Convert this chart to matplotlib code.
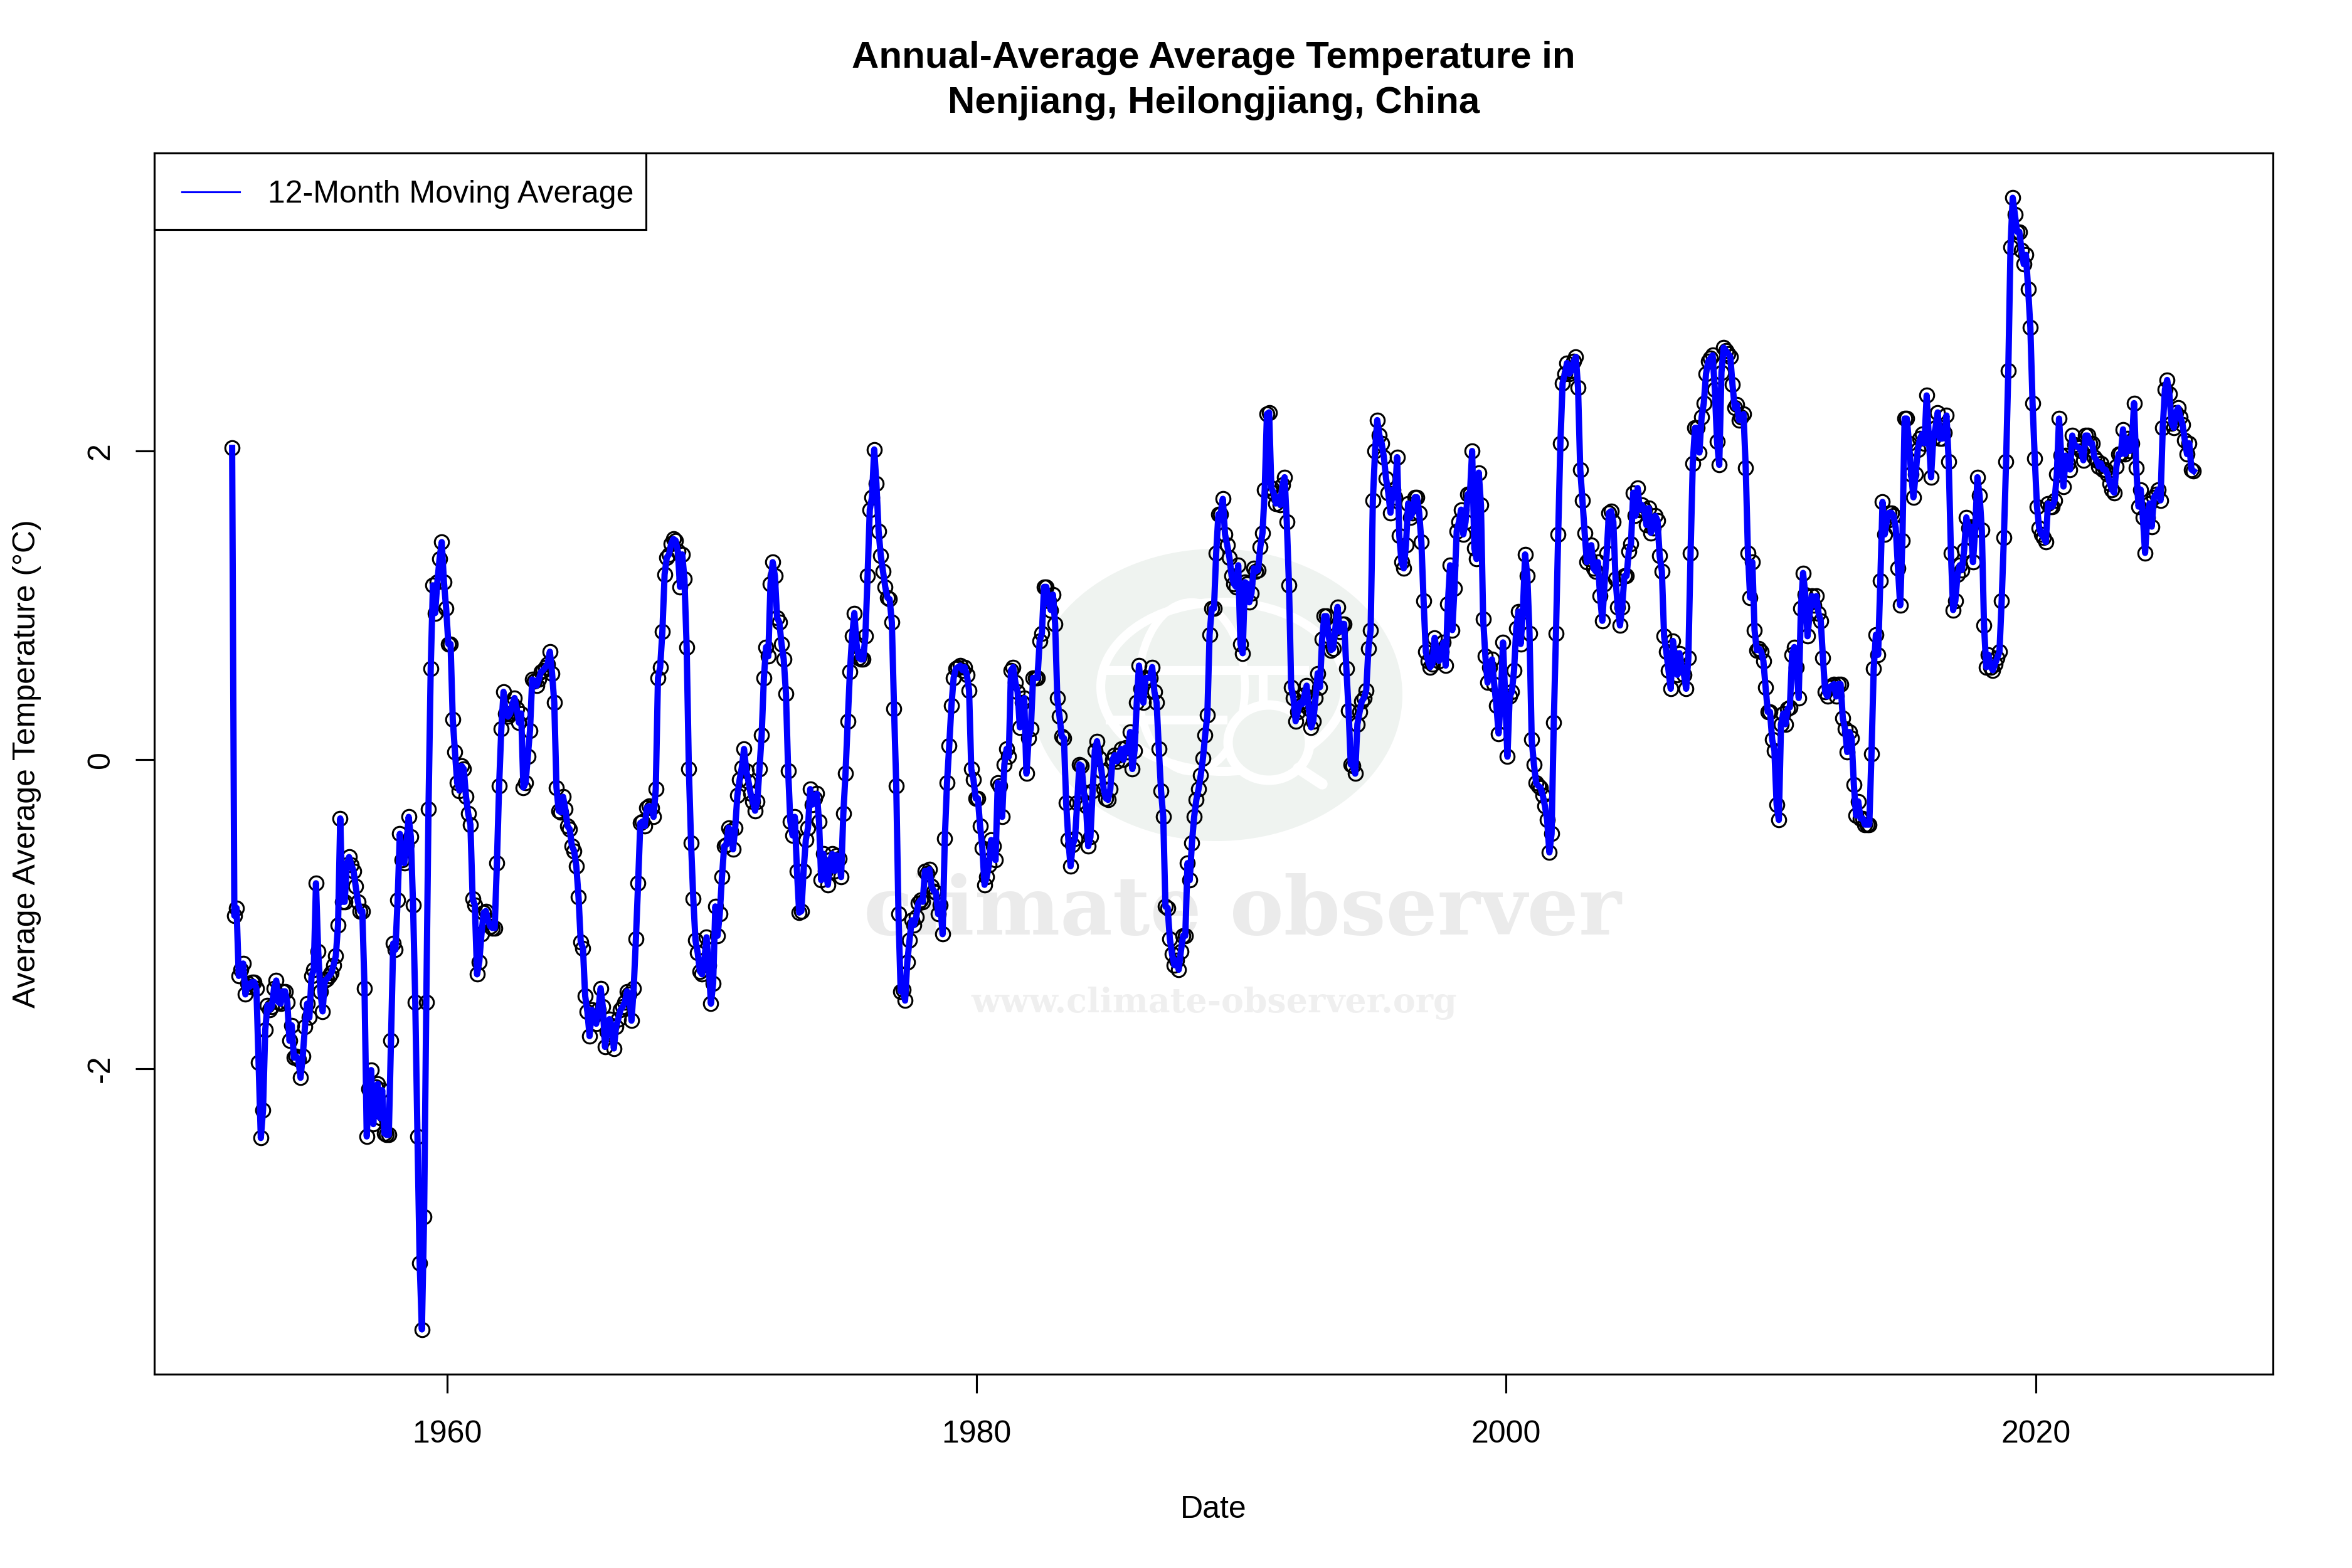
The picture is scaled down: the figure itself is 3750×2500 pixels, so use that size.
import matplotlib
matplotlib.use("Agg")
import matplotlib.pyplot as plt
import numpy as np
from matplotlib.lines import Line2D
from matplotlib.patches import Ellipse, Rectangle

plt.rcParams['font.family'] = ['Liberation Sans', 'DejaVu Sans']
plt.rcParams['axes.unicode_minus'] = False

# monthly 12-month moving average, first value about Nov 1951
temps_a = [
    2.02,-1.01,-0.96,-1.40,-1.36,-1.32,-1.52,-1.45,-1.47,-1.44,-1.44,-1.48,
    -1.96,-2.45,-2.27,-1.75,-1.59,-1.62,-1.60,-1.48,-1.43,-1.57,-1.58,-1.50,
    -1.50,-1.57,-1.82,-1.72,-1.93,-1.92,-1.94,-2.06,-1.92,-1.73,-1.58,-1.67,
    -1.40,-1.36,-0.80,-1.24,-1.50,-1.63,-1.43,-1.42,-1.40,-1.38,-1.33,-1.27,
    -1.07,-0.38,-0.92,-0.92,-0.68,-0.63,-0.68,-0.72,-0.82,-0.92,-0.98,-0.98,
    -1.48,-2.44,-2.13,-2.01,-2.36,-2.12,-2.10,-2.32,-2.14,-2.42,-2.43,-2.43,
    -1.82,-1.19,-1.23,-0.91,-0.48,-0.65,-0.67,-0.55,-0.37,-0.50,-0.94,-1.57,
    -2.44,-3.26,-3.69,-2.96,-1.57,-0.32,0.59,1.13,0.95,1.15,1.30,1.41,
    1.15,0.98,0.75,0.75,0.26,0.05,-0.15,-0.20,-0.04,-0.06,-0.24,-0.35,
    -0.42,-0.90,-0.94,-1.39,-1.31,-1.13,-0.99,-0.98,-1.04,-1.08,-1.09,-1.09,
    -0.67,-0.17,0.20,0.44,0.30,0.28,0.30,0.36,0.40,0.33,0.24,0.30,
    -0.18,-0.15,0.02,0.19,0.52,0.51,0.48,0.52,0.57,0.58,0.60,0.62,
]
temps_b = [
    0.70,0.56,0.37,-0.18,-0.33,-0.34,-0.24,-0.32,-0.43,-0.45,-0.56,-0.59,
    -0.69,-0.89,-1.18,-1.22,-1.53,-1.63,-1.79,-1.62,-1.66,-1.71,-1.62,-1.48,
    -1.60,-1.86,-1.76,-1.68,-1.72,-1.87,-1.73,-1.68,-1.62,-1.60,-1.57,-1.50,
    -1.52,-1.69,-1.48,-1.16,-0.80,-0.41,-0.40,-0.43,-0.31,-0.30,-0.31,-0.37,
    -0.19,0.53,0.60,0.83,1.20,1.31,1.33,1.40,1.43,1.42,1.35,1.12,
    1.33,1.17,0.73,-0.06,-0.54,-0.90,-1.17,-1.25,-1.37,-1.39,-1.30,-1.15,
    -1.33,-1.58,-1.45,-0.95,-1.14,-1.00,-0.76,-0.56,-0.55,-0.44,-0.46,-0.58,
    -0.44,-0.23,-0.13,-0.05,0.07,-0.07,-0.14,-0.22,-0.27,-0.33,-0.27,-0.06,
    0.16,0.53,0.73,0.67,1.14,1.28,1.19,0.92,0.89,0.75,0.65,0.43,
    -0.07,-0.40,-0.49,-0.37,-0.72,-0.99,-0.98,-0.72,-0.52,-0.44,-0.19,-0.29,
    -0.25,-0.22,-0.40,-0.78,-0.61,-0.72,-0.81,-0.65,-0.61,-0.72,-0.62,-0.64,
    -0.76,-0.35,-0.09,0.25,0.57,0.80,0.95,0.75,0.66,0.65,0.65,0.80,
]
temps_c = [
    1.19,1.62,1.70,2.01,1.79,1.48,1.32,1.22,1.12,1.05,1.04,0.89,
    0.33,-0.17,-1.00,-1.50,-1.49,-1.56,-1.31,-1.17,-1.04,-1.07,-1.02,-0.93,
    -0.91,-0.92,-0.72,-0.74,-0.71,-0.82,-0.85,-0.86,-1.00,-0.94,-1.13,-0.51,
    -0.15,0.09,0.35,0.53,0.59,0.60,0.61,0.58,0.60,0.55,0.45,-0.06,
    -0.13,-0.25,-0.25,-0.43,-0.57,-0.81,-0.76,-0.68,-0.52,-0.56,-0.65,-0.15,
    -0.17,-0.37,-0.03,0.07,0.02,0.58,0.60,0.50,0.44,0.21,0.37,0.40,
    -0.09,0.14,0.20,0.53,0.53,0.53,0.77,0.82,1.12,1.12,1.03,0.97,
    1.07,0.88,0.40,0.28,0.15,0.14,-0.28,-0.52,-0.69,-0.55,-0.51,-0.28,
    -0.03,-0.04,-0.21,-0.30,-0.56,-0.50,-0.20,0.06,0.12,0.01,-0.07,-0.19,
    -0.25,-0.26,-0.19,0.00,0.03,-0.01,0.03,0.07,0.00,0.08,0.05,0.18,
    -0.06,0.06,0.37,0.61,0.46,0.37,0.53,0.53,0.53,0.60,0.44,0.37,
    0.07,-0.20,-0.37,-0.95,-0.96,-1.16,-1.26,-1.33,-1.30,-1.36,-1.24,-1.14,
]
temps_d = [
    -1.14,-0.67,-0.78,-0.54,-0.37,-0.26,-0.19,-0.10,0.01,0.16,0.29,0.81,
    0.98,0.98,1.34,1.59,1.59,1.69,1.46,1.39,1.31,1.19,1.14,1.12,
    1.26,0.75,0.69,1.15,1.14,1.02,1.08,1.24,1.22,1.23,1.38,1.47,
    1.75,2.24,2.25,1.76,1.73,1.66,1.70,1.65,1.78,1.83,1.54,1.13,
    0.47,0.40,0.25,0.31,0.37,0.36,0.42,0.48,0.33,0.21,0.25,0.40,
    0.56,0.47,0.78,0.93,0.93,0.80,0.71,0.72,0.85,0.99,0.83,0.88,
    0.88,0.59,0.32,-0.03,-0.04,-0.09,0.23,0.31,0.38,0.40,0.45,0.72,
    0.84,1.68,2.00,2.20,2.10,2.05,1.96,1.82,1.73,1.60,1.75,1.70,
    1.96,1.45,1.28,1.24,1.39,1.66,1.57,1.60,1.70,1.70,1.60,1.41,
    1.03,0.70,0.64,0.60,0.62,0.79,0.70,0.64,0.70,0.76,0.61,1.01,
    1.26,0.84,1.11,1.48,1.54,1.62,1.46,1.54,1.72,1.72,2.00,1.37,
    1.30,1.86,1.65,0.91,0.67,0.50,0.60,0.65,0.49,0.35,0.17,0.41,
]
temps_e = [
    0.76,0.40,0.02,0.41,0.44,0.58,0.85,0.96,0.75,0.96,1.33,1.19,
    0.82,0.13,-0.03,-0.15,-0.17,-0.18,-0.23,-0.30,-0.39,-0.60,-0.48,0.24,
    0.82,1.46,2.05,2.44,2.50,2.57,2.50,2.52,2.58,2.61,2.41,1.88,
    1.68,1.47,1.28,1.30,1.39,1.24,1.22,1.28,1.06,0.90,1.14,1.34,
    1.60,1.61,1.54,1.17,0.99,0.87,0.99,1.19,1.19,1.35,1.40,1.73,
    1.58,1.76,1.62,1.65,1.62,1.52,1.63,1.47,1.50,1.58,1.55,1.32,
    1.22,0.80,0.70,0.58,0.46,0.77,0.66,0.55,0.69,0.60,0.55,0.46,
    0.66,1.34,1.92,2.15,2.15,1.99,2.22,2.31,2.50,2.58,2.60,2.62,
    2.40,2.06,1.91,2.51,2.67,2.65,2.63,2.61,2.43,2.28,2.30,2.20,
    2.22,2.24,1.89,1.34,1.05,1.28,0.84,0.71,0.72,0.70,0.64,0.47,
    0.31,0.31,0.13,0.06,-0.29,-0.39,0.23,0.30,0.23,0.33,0.34,0.68,
    0.73,0.60,0.40,0.98,1.21,1.07,0.80,0.95,1.06,1.00,1.06,0.95,
]
temps_f = [
    0.90,0.66,0.44,0.41,0.47,0.48,0.49,0.41,0.49,0.49,0.27,0.20,
    0.05,0.18,0.14,-0.16,-0.36,-0.27,-0.38,-0.38,-0.42,-0.42,-0.42,0.04,
    0.59,0.81,0.68,1.16,1.67,1.46,1.55,1.60,1.60,1.58,1.50,1.24,
    1.00,1.42,2.21,2.21,2.05,1.85,1.70,1.85,2.01,2.08,2.11,2.05,
    2.36,2.08,1.83,2.08,2.15,2.25,2.08,2.08,2.12,2.23,1.93,1.34,
    0.97,1.03,1.20,1.26,1.23,1.36,1.57,1.50,1.51,1.28,1.49,1.83,
    1.71,1.49,0.87,0.60,0.68,0.60,0.58,0.62,0.66,0.70,1.03,1.44,
    1.93,2.52,3.32,3.64,3.53,3.42,3.42,3.30,3.21,3.27,3.05,2.80,
    2.31,1.95,1.64,1.50,1.46,1.44,1.41,1.66,1.64,1.64,1.68,1.85,
    2.21,1.97,1.77,1.97,1.92,1.88,2.10,2.04,2.03,2.02,2.00,1.94,
    2.10,2.10,2.05,2.05,1.96,1.94,1.90,1.92,1.88,1.88,1.85,1.79,
    1.75,1.73,1.90,1.98,1.98,2.14,1.98,2.08,2.00,2.05,2.31,1.89,
    1.64,1.75,1.57,1.34,1.57,1.66,1.51,1.70,1.72,1.75,1.68,2.15,
    2.40,2.46,2.37,2.18,2.15,2.25,2.28,2.22,2.17,2.07,1.98,2.05,
    1.88,1.87,
]
temps = temps_a + temps_b + temps_c + temps_d + temps_e + temps_f
start_year = 1951.88
x_ticks = [1960, 1980, 2000, 2020]
y_ticks = [-2, 0, 2]

W, H = 3750, 2500
fig = plt.figure(figsize=(W / 300, H / 300), dpi=300, facecolor="white")

# watermark sits behind the plot, laid out in pixels
bg = fig.add_axes([0, 0, 1, 1], zorder=0)
bg.set_xlim(0, W)
bg.set_ylim(H, 0)
bg.axis("off")
pale = "#eff3f0"
bg.add_patch(Ellipse((1940, 1108), 592, 466, fc=pale, ec="none"))
bg.add_patch(Ellipse((1950, 1095), 390, 270, fc="none", ec="white", lw=3.4))
bg.add_patch(Ellipse((1900, 1095), 170, 270, fc="none", ec="white", lw=3.0))
bg.plot([1770, 2080], [1069, 1069], color="white", lw=3.4)
bg.plot([1770, 1950], [1148, 1148], color="white", lw=3.4)
bg.plot([2014, 2014], [1069, 1112], color="white", lw=3.4)
bg.add_patch(Ellipse((2023, 1184), 130, 120, fc=pale, ec="white", lw=3.6))
bg.plot([2070, 2108], [1225, 1250], color="white", lw=4.2, solid_capstyle="round")
bg.text(1981, 1455, "climate observer", family="DejaVu Serif", weight="bold",
        fontsize=31, color="#ebebeb", ha="center", va="center")
bg.text(1936, 1600, "www.climate-observer.org", family="DejaVu Serif", weight="bold",
        fontsize=12.9, color="#efefef", ha="center", va="center")

ax = fig.add_axes([246 / W, 1 - 2191 / H, (3624 - 246) / W, (2191 - 244) / H], zorder=1)
ax.patch.set_alpha(0)

dates = start_year + np.arange(len(temps)) / 12
ax.plot(dates, temps, "o", mfc="none", mec="black", ms=5.4, mew=0.75, zorder=2)
ax.plot(dates, temps, color="#0000ff", lw=2.4, zorder=3)

ax.set_xlim(1948.94, 2028.96)
ax.set_ylim(-3.98, 3.93)
ax.set_xticks(x_ticks)
ax.set_xticklabels([str(v) for v in x_ticks], fontsize=12)
ax.set_yticks(y_ticks)
ax.set_yticklabels([str(v) for v in y_ticks], fontsize=12, rotation=90, va="center")
ax.tick_params(axis="x", length=7.2, width=0.75, pad=10.2)
ax.tick_params(axis="y", length=7.2, width=0.75, pad=7.8)
for s in ax.spines.values():
    s.set_linewidth(0.75)

fig.text(1935 / W, 1 - 2407 / H, "Date", fontsize=12, ha="center", va="center")
fig.text(43 / W, 1 - 1218 / H, "Average Average Temperature (°C)", fontsize=12,
         rotation=90, ha="center", va="center")
fig.text(1935 / W, 1 - 93 / H, "Annual-Average Average Temperature in", fontsize=14.4,
         weight="bold", ha="center", va="center")
fig.text(1935 / W, 1 - 165 / H, "Nenjiang, Heilongjiang, China", fontsize=14.4,
         weight="bold", ha="center", va="center")

# legend box like base R: flush with the top left corner
fg = fig.add_axes([0, 0, 1, 1], zorder=2)
fg.set_xlim(0, W)
fg.set_ylim(H, 0)
fg.axis("off")
fg.add_patch(Rectangle((246, 244), 784, 122, fc="white", ec="black", lw=0.75))
fg.add_line(Line2D([290, 382], [306, 306], color="#0000ff", lw=0.75))
fg.text(427, 310, "12-Month Moving Average", fontsize=12, ha="left", va="center")

fig.savefig("out.png", dpi=300)
